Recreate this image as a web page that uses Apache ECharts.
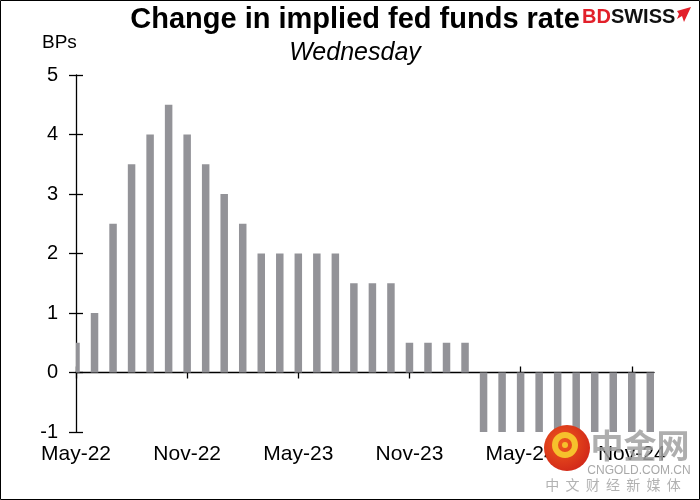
<!DOCTYPE html>
<html>
<head>
<meta charset="utf-8">
<script src="https://cdn.jsdelivr.net/npm/echarts@6/dist/echarts.min.js"></script>
<style>html,body{margin:0;padding:0;background:#fff}#c{width:700px;height:500px}</style>
</head>
<body>
<div id="c"></div>
<script>
// Months (May-22 .. Dec-24)
const months = ['May-22','Jun-22','Jul-22','Aug-22','Sep-22','Oct-22','Nov-22','Dec-22',
  'Jan-23','Feb-23','Mar-23','Apr-23','May-23','Jun-23','Jul-23','Aug-23','Sep-23','Oct-23','Nov-23','Dec-23',
  'Jan-24','Feb-24','Mar-24','Apr-24','May-24','Jun-24','Jul-24','Aug-24','Sep-24','Oct-24','Nov-24','Dec-24'];
// Change in implied fed funds rate, BPs
const changeBps = [0.5, 1.0, 2.5, 3.5, 4.0, 4.5, 4.0, 3.5,
  3.0, 2.5, 2.0, 2.0, 2.0, 2.0, 2.0, 1.5, 1.5, 1.5, 0.5, 0.5,
  0.5, 0.5, -1, -1, -1, -1, -1, -1, -1, -1, -1, -1];
// Tick label positions (month index) on the x axis
const tickIdx = [0, 6, 12, 18, 24, 30];
const yTicks = {min: -1, max: 5, step: 1};

const chart = echarts.init(document.getElementById('c'));
const FONT = 'Liberation Sans, Arial, sans-serif';
const xMax = months.length - 1 + 0.2;
const BAR_W = 7.5;

const baseX = {type: 'value', min: 0, max: xMax, position: 'bottom', splitLine: {show: false}, gridIndex: 0};
const tickLine = {color: '#000', width: 1.3};

chart.setOption({
  animation: false,
  backgroundColor: '#fff',
  grid: {left: 76, right: 46, top: 75, bottom: 68, containLabel: false},
  xAxis: [
    Object.assign({}, baseX, {
      axisLine: {show: false, onZero: false},
      axisTick: {show: false},
      axisLabel: {
        customValues: tickIdx, margin: 12, fontSize: 21, color: '#000', fontFamily: FONT,
        formatter: v => months[Math.round(v)] || ''
      }
    }),
    Object.assign({}, baseX, {
      axisLine: {show: true, onZero: true, lineStyle: tickLine},
      axisTick: {show: true, customValues: tickIdx, length: 6, lineStyle: tickLine},
      axisLabel: {show: false}
    }),
    Object.assign({}, baseX, {
      axisLine: {show: false, onZero: true},
      axisTick: {show: true, inside: true, customValues: tickIdx, length: 6, lineStyle: tickLine},
      axisLabel: {show: false}
    })
  ],
  yAxis: [
    {
      type: 'value', min: yTicks.min, max: yTicks.max, interval: yTicks.step, position: 'left',
      splitLine: {show: false},
      axisLine: {show: true, onZero: false, lineStyle: tickLine},
      axisTick: {show: true, length: 7, lineStyle: tickLine},
      axisLabel: {margin: 18, fontSize: 20, color: '#000', fontFamily: FONT}
    },
    {
      type: 'value', min: yTicks.min, max: yTicks.max, interval: yTicks.step, position: 'left', offset: 0,
      splitLine: {show: false},
      axisLine: {show: false, onZero: false},
      axisTick: {show: true, inside: true, length: 7, lineStyle: tickLine},
      axisLabel: {show: false}
    }
  ],
  series: [{
    type: 'custom',
    xAxisIndex: 0, yAxisIndex: 0,
    data: changeBps.map((v, i) => [i, v]),
    encode: {x: 0, y: 1},
    renderItem: function (params, api) {
      const x = api.value(0), v = api.value(1);
      const p0 = api.coord([x, 0]);
      const p1 = api.coord([x, v]);
      const shape = echarts.graphic.clipRectByRect({
        x: p0[0] - BAR_W / 2,
        y: Math.min(p0[1], p1[1]),
        width: BAR_W,
        height: Math.abs(p1[1] - p0[1])
      }, {
        x: params.coordSys.x, y: params.coordSys.y,
        width: params.coordSys.width, height: params.coordSys.height
      });
      return shape && {type: 'rect', shape: shape, style: {fill: '#939398'}};
    },
    z: 1
  }],
  graphic: [
    {type: 'text', x: 355, y: 20, style: {text: 'Change in implied fed funds rate', font: 'bold 29px ' + FONT, fill: '#000', align: 'center', verticalAlign: 'middle'}},
    {type: 'text', x: 355, y: 53, style: {text: 'Wednesday', font: 'italic 25px ' + FONT, fill: '#000', align: 'center', verticalAlign: 'middle'}},
    {type: 'text', x: 42, y: 43, style: {text: 'BPs', font: '19px ' + FONT, fill: '#000', align: 'left', verticalAlign: 'middle'}},
    {type: 'text', x: 582, y: 17, style: {
      text: '{a|BD}{b|SWISS}', verticalAlign: 'middle', align: 'left',
      rich: {
        a: {font: 'bold 20px ' + FONT, fill: '#e2202a'},
        b: {font: 'bold 20px ' + FONT, fill: '#111'}
      }
    }},
    {type: 'polygon', shape: {points: [[677, 11], [691, 7], [684, 22], [682, 16], [677, 19], [679, 14]]}, style: {fill: '#e2202a'}},
    // watermark
    {type: 'circle', shape: {cx: 567, cy: 448, r: 23}, z: 100, style: {fill: {type: 'radial', x: 0.4, y: 0.4, r: 0.7, colorStops: [{offset: 0, color: '#ef5a1e'}, {offset: 1, color: '#cf2418'}]}}},
    {type: 'circle', shape: {cx: 565, cy: 445, r: 10}, z: 101, style: {fill: 'none', stroke: '#f6c12c', lineWidth: 6}},
    {type: 'circle', shape: {cx: 565, cy: 445, r: 3}, z: 101, style: {fill: '#f6c12c'}},
    {type: 'text', x: 640, y: 445, z: 100, style: {text: '中金网', font: 'bold 33px "Noto Sans CJK SC", sans-serif', fill: 'rgba(160,160,160,0.85)', align: 'center', verticalAlign: 'middle'}},
    {type: 'text', x: 639, y: 471, z: 100, style: {text: 'CNGOLD.COM.CN', font: '12px ' + FONT, fill: 'rgba(160,160,160,0.9)', align: 'center', verticalAlign: 'middle'}},
    {type: 'text', x: 613, y: 485, z: 100, style: {text: '中  文  财  经  新  媒  体', font: '14px "Noto Sans CJK SC", sans-serif', fill: 'rgba(170,170,170,0.9)', align: 'center', verticalAlign: 'middle'}},
    {type: 'rect', shape: {x: 0.5, y: 0.5, width: 699, height: 499}, z: 200, style: {fill: 'none', stroke: '#000', lineWidth: 1}}
  ]
});
</script>
</body>
</html>
